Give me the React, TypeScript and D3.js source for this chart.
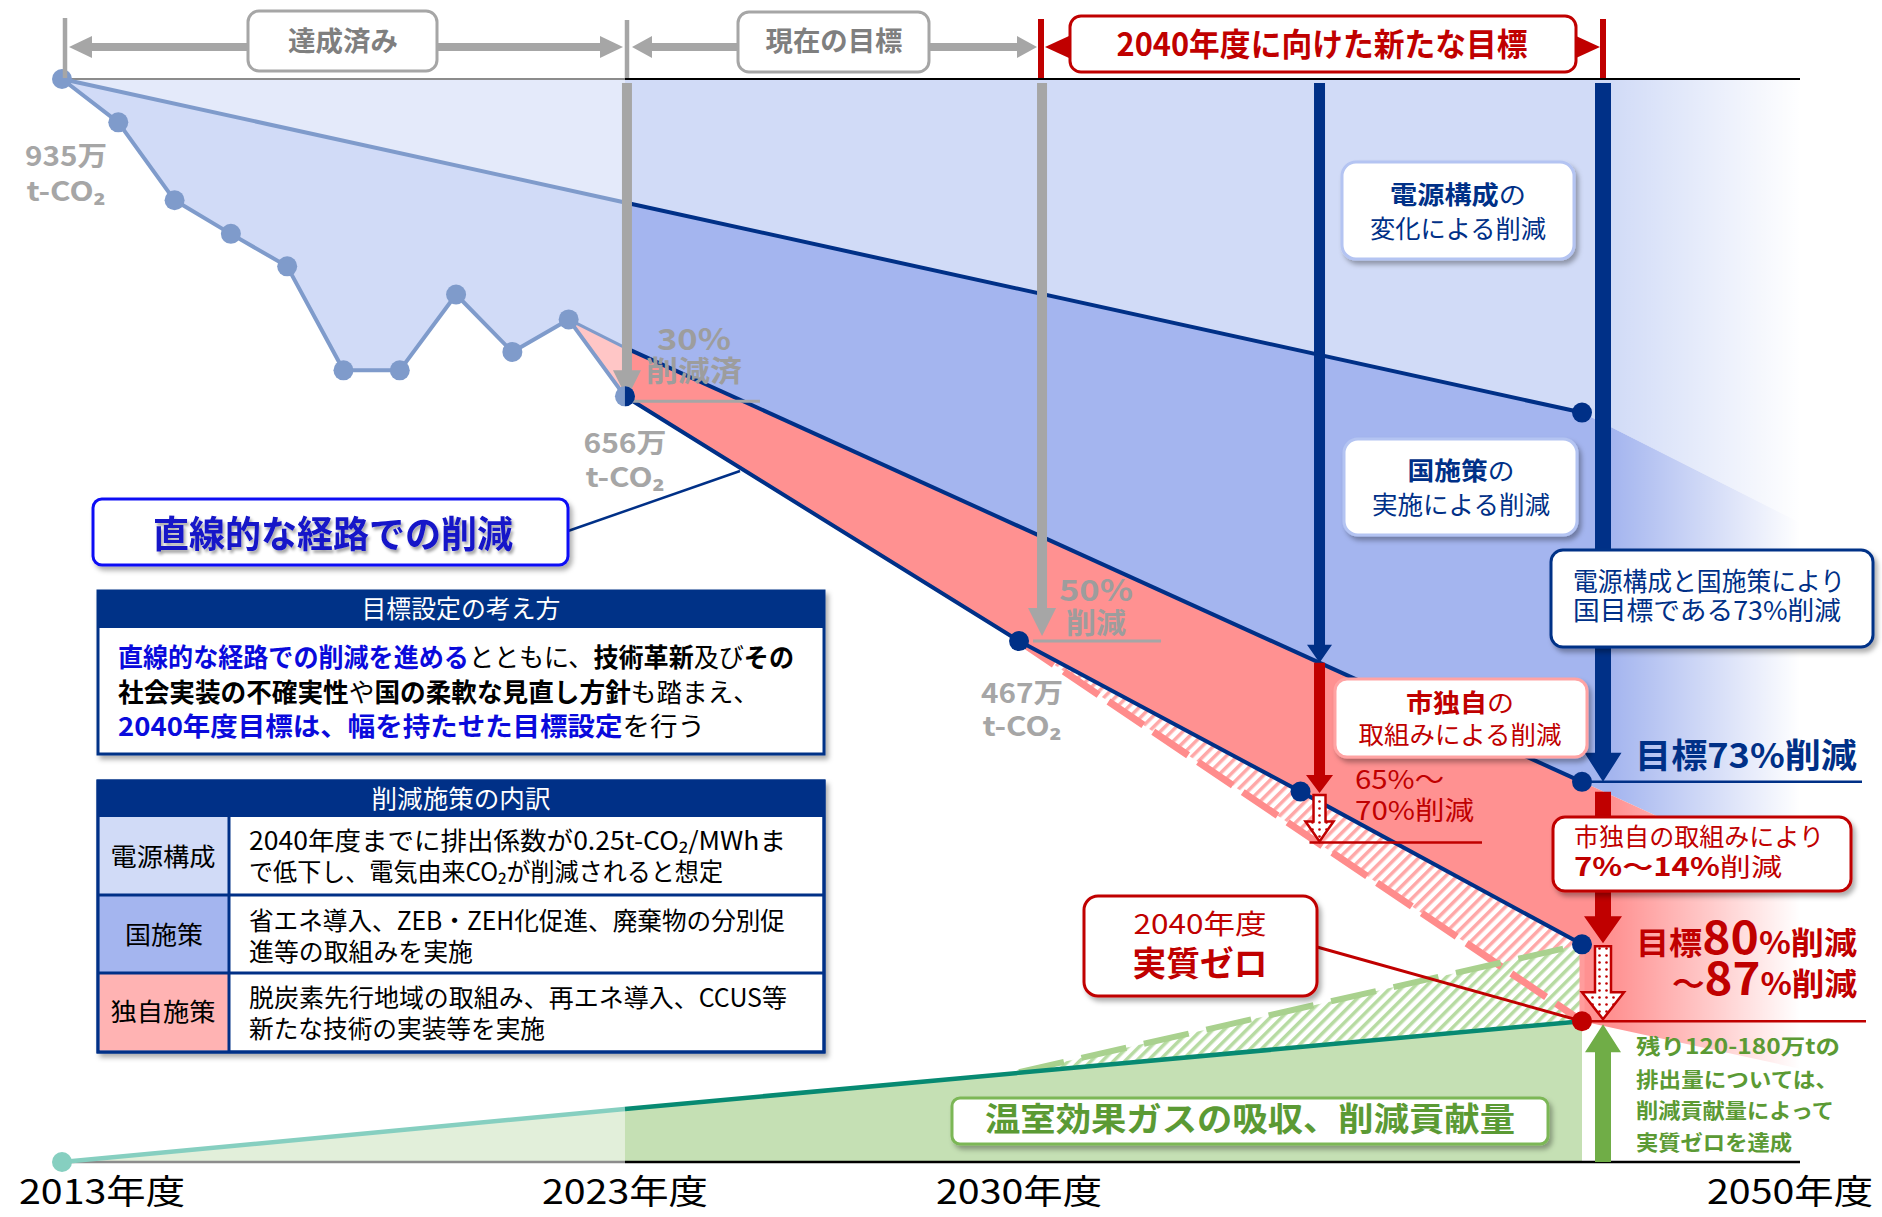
import React from "react";
import * as d3 from "d3";

const FONT = "'Noto Sans CJK JP','Noto Sans',sans-serif";

// ===== Data (values = % of FY2013 emissions as placed on the diagram) =====
const actualYears = [2013, 2014, 2015, 2016, 2017, 2018, 2019, 2020, 2021, 2022, 2023];
const actualValues = [100, 96.0, 88.8, 85.7, 82.7, 73.1, 73.1, 80.1, 74.8, 77.8, 70.7];
const powerMixYears = [2013, 2023, 2040];
const powerMixValues = [100, 88.6, 69.2];
const nationalYears = [2022, 2023, 2040];
const nationalValues = [77.8, 75.2, 35.1];
const linearYears = [2023, 2030, 2035, 2040];
const linearValues = [70.7, 48.1, 34.2, 20.1];
const netZeroPathYears = [2030, 2040];
const netZeroPathValues = [48.1, 13.0];
const sinkYears = [2013, 2023, 2040];
const sinkValues = [0, 4.9, 13.0];
const sinkUpperYears = [2030, 2040];
const sinkUpperValues = [8.3, 20.1];
const fadeYear = 2045.3;
const fadeBlueTop = 55.3;
const fadeBandSplit = 22.5;
const fadePinkBottom = 7.0;
const local2035Level = 29.5;

const periodLabels = ["達成済み", "現在の目標", "2040年度に向けた新たな目標"];
const axisLabels = ["2013年度", "2023年度", "2030年度", "2050年度"];
const axisYears = [2013, 2023, 2030];
const valueLabels = ["935万", "656万", "467万"];
const unitLabel = "t-CO₂";
const tableLabels = ["電源構成", "国施策", "独自施策"];
const tableText = [
  ["2040年度までに排出係数が0.25t-CO₂/MWhま", "で低下し、電気由来CO₂が削減されると想定"],
  ["省エネ導入、ZEB・ZEH化促進、廃棄物の分別促", "進等の取組みを実施"],
  ["脱炭素先行地域の取組み、再エネ導入、CCUS等", "新たな技術の実装等を実施"],
];
const tableWidths = [[537, 474], [536, 224], [538, 296]];
const greenNote = ["残り120-180万tの", "排出量については、", "削減貢献量によって", "実質ゼロを達成"];
const greenNoteWidths = [204, 202, 198, 156];

const NAVY = "#003087";
const RED = "#c00000";
const GRAY = "#a6a6a6";
const LBLUE_LINE = "#7f9bcb";
const GREEN_TXT = "#5b9a34";

function vArrow(x: number, y1: number, y2: number, w: number, hw: number, hl: number) {
  const d = y2 > y1 ? 1 : -1;
  const yb = y2 - d * hl;
  return `M${x - w / 2},${y1}L${x + w / 2},${y1}L${x + w / 2},${yb}L${x + hw / 2},${yb}L${x},${y2}L${x - hw / 2},${yb}L${x - w / 2},${yb}Z`;
}
function hHead(xTip: number, y: number, dir: number, len: number, hw: number) {
  return `M${xTip},${y}L${xTip - dir * len},${y - hw / 2}L${xTip - dir * len},${y + hw / 2}Z`;
}

const T = ({ x, y, s, w = 400, c = "#000", a = "middle", len, base = "central", filter, children }: any) => (
  <text
    x={x}
    y={base === "central" ? y - 0.09 * s : y}
    fontSize={s}
    fontWeight={w}
    fill={c}
    textAnchor={a}
    dominantBaseline={base}
    textLength={len}
    lengthAdjust={len ? "spacingAndGlyphs" : undefined}
    fontFamily={FONT}
    filter={filter}
  >
    {children}
  </text>
);

export default function App() {
  const X = d3.scaleLinear().domain([2013, 2040]).range([62, 1582]);
  const Y = d3.scaleLinear().domain([0, 100]).range([1162, 79]);
  const P = (ys: number[], vs: number[]) => ys.map((yr, i) => [X(yr), Y(vs[i])] as [number, number]);
  const line = d3.line();
  const poly = (pts: [number, number][]) => line(pts) + "Z";

  const act = P(actualYears, actualValues);
  const A = P(powerMixYears, powerMixValues);
  const N = P(nationalYears, nationalValues);
  const L = P(linearYears, linearValues);
  const Z = P(netZeroPathYears, netZeroPathValues);
  const S = P(sinkYears, sinkValues);
  const SU = P(sinkUpperYears, sinkUpperValues);
  const xR = X(fadeYear);
  const yTop = Y(100);
  const yBase = Y(0);

  const x23 = X(2023);
  const x30 = X(2030);
  const x40 = X(2040);
  const arr23 = x23 + 2;
  const arr30 = x30 + 23;
  const arr35 = X(2035) + 19;
  const arr40 = x40 + 21;

  const natInterp = d3.scaleLinear().domain([N[1][0], N[2][0]]).range([N[1][1], N[2][1]]);
  const y35nat = natInterp(arr35);
  const y35loc = Y(local2035Level);

  const polys = {
    veryLight: [[X(2013), yTop], [x23, yTop], A[1], A[0]] as [number, number][],
    lightLeft: [A[0], A[1], ...act.slice().reverse()] as [number, number][],
    lightRight: [[x23, yTop], [xR, yTop], [xR, Y(fadeBlueTop)], A[2], A[1]] as [number, number][],
    med: [A[1], A[2], [xR, Y(fadeBlueTop)], [xR, Y(fadeBandSplit)], N[2], N[1]] as [number, number][],
    pink: [N[1], N[2], [xR, Y(fadeBandSplit)], [xR, Y(fadePinkBottom)], Z[1], L[3], L[2], L[1], L[0]] as [number, number][],
    pinkTri: [N[0], N[1], act[act.length - 1]] as [number, number][],
    pinkHatch: [L[1], L[3], Z[1]] as [number, number][],
    greenLight: [S[0], S[1], [x23, yBase]] as [number, number][],
    green: [S[1], S[2], [x40, yBase], [x23, yBase]] as [number, number][],
    greenHatch: [SU[0], SU[1], S[2]] as [number, number][],
  };

  const d23 = act[act.length - 1];

  return (
    <svg width={1882} height={1217} style={{ display: "block", position: "absolute", left: 0, top: 0, background: "#fff" }}>
      <defs>
        <filter id="sh" x="-10%" y="-10%" width="130%" height="150%">
          <feDropShadow dx="3" dy="4" stdDeviation="2.5" floodColor="#000" floodOpacity="0.32" />
        </filter>
        <filter id="tsh" x="-5%" y="-20%" width="115%" height="160%">
          <feDropShadow dx="2" dy="3" stdDeviation="1.5" floodColor="#000" floodOpacity="0.35" />
        </filter>
        <pattern id="ph" width="8" height="8" patternUnits="userSpaceOnUse" patternTransform="rotate(45)">
          <rect width="8" height="8" fill="#fff" />
          <rect width="3.5" height="8" fill="#ffa8a8" />
        </pattern>
        <pattern id="gh" width="8" height="8" patternUnits="userSpaceOnUse" patternTransform="rotate(45)">
          <rect width="8" height="8" fill="#fff" />
          <rect width="3.5" height="8" fill="#b7dba2" />
        </pattern>
        <pattern id="dots" width="7" height="7" patternUnits="userSpaceOnUse">
          <rect width="7" height="7" fill="#fff" />
          <circle cx="3.5" cy="3.5" r="1.3" fill={RED} />
        </pattern>
        <linearGradient id="fade" x1="0" x2="1" y1="0" y2="0">
          <stop offset="0" stopColor="#fff" stopOpacity="0" />
          <stop offset="1" stopColor="#fff" stopOpacity="1" />
        </linearGradient>
      </defs>

      {/* ===== Area fills ===== */}
      <path d={poly(polys.veryLight)} fill="#e4eafa" />
      <path d={poly(polys.lightLeft)} fill="#d1dbf7" />
      <path d={poly(polys.lightRight)} fill="#d1dbf7" />
      <path d={poly(polys.med)} fill="#a4b5ef" />
      <path d={poly(polys.pink)} fill="#ff9191" />
      <path d={poly(polys.pinkTri)} fill="#ffc6c6" />
      <path d={poly(polys.pinkHatch)} fill="url(#ph)" />
      <path d={poly(polys.greenLight)} fill="#e2efda" />
      <path d={poly(polys.green)} fill="#c5e0b4" />
      <path d={poly(polys.greenHatch)} fill="url(#gh)" />
      <rect x={x40 + 30} y={yTop - 2} width={1800 - x40 - 30} height={yBase - yTop} fill="url(#fade)" />
      <rect x={1799} y={yTop - 2} width={83} height={yBase - yTop} fill="#fff" />

      {/* ===== top & bottom rules ===== */}
      <line x1={X(2013)} x2={x23} y1={yTop} y2={yTop} stroke="#8c8c8c" strokeWidth={1.8} />
      <line x1={x23} x2={1800} y1={yTop} y2={yTop} stroke="#000" strokeWidth={1.8} />
      <line x1={X(2013)} x2={x23} y1={yBase} y2={yBase} stroke="#8c8c8c" strokeWidth={2.5} />
      <line x1={x23} x2={1800} y1={yBase} y2={yBase} stroke="#000" strokeWidth={2.5} />

      {/* ===== dashed hatch borders ===== */}
      <path d={line(Z) || ""} stroke="#ff8c8c" strokeWidth={7} strokeDasharray="42 12" fill="none" />
      <line x1={x40} x2={x40} y1={L[3][1]} y2={Z[1][1]} stroke="#ff9c9c" strokeWidth={5} />
      <path d={line(SU) || ""} stroke="#a9d18e" strokeWidth={6} strokeDasharray="46 18" fill="none" />

      {/* ===== lines ===== */}
      <path d={line(act) || ""} stroke={LBLUE_LINE} strokeWidth={4} fill="none" strokeLinejoin="round" />
      <path d={line([A[0], A[1]]) || ""} stroke={LBLUE_LINE} strokeWidth={4} fill="none" />
      <path d={line([A[1], A[2]]) || ""} stroke={NAVY} strokeWidth={4} fill="none" />
      <path d={line([N[0], N[1]]) || ""} stroke={LBLUE_LINE} strokeWidth={3} fill="none" />
      <path d={line([N[1], N[2]]) || ""} stroke={NAVY} strokeWidth={4} fill="none" />
      <path d={line(L) || ""} stroke={NAVY} strokeWidth={4} fill="none" />
      <path d={line([S[0], S[1]]) || ""} stroke="#86cfc0" strokeWidth={4.5} fill="none" />
      <path d={line([S[1], S[2]]) || ""} stroke="#078a72" strokeWidth={4.5} fill="none" />

      {/* ===== vertical arrows ===== */}
      <path d={vArrow(arr23, 83, d23[1] + 2, 10, 28, 28)} fill={GRAY} />
      <line x1={arr23} x2={arr23 + 133} y1={d23[1] + 5} y2={d23[1] + 5} stroke={GRAY} strokeWidth={3} />
      <path d={vArrow(arr30, 83, L[1][1] - 5, 10, 28, 28)} fill={GRAY} />
      <line x1={x30 + 14} x2={x30 + 142} y1={L[1][1]} y2={L[1][1]} stroke={GRAY} strokeWidth={3} />

      <path d={vArrow(arr35, 83, y35nat, 11, 25, 18)} fill={NAVY} />
      <path d={vArrow(arr35, y35nat, 793, 11, 27, 18)} fill={RED} />
      <line x1={arr35 - 10} x2={1482} y1={y35loc} y2={y35loc} stroke={RED} strokeWidth={2.5} />
      <path d={vArrow(arr35, 795, y35loc - 1, 12, 28, 20)} fill="url(#dots)" stroke={RED} strokeWidth={2.5} />

      <path d={vArrow(arr40, 83, N[2][1], 16, 37, 29)} fill={NAVY} />
      <line x1={x40} x2={1862} y1={N[2][1]} y2={N[2][1]} stroke={NAVY} strokeWidth={2.5} />
      <path d={vArrow(arr40, N[2][1] + 10, L[3][1] - 1, 16, 38, 27)} fill={RED} />
      <line x1={x40} x2={1866} y1={Z[1][1]} y2={Z[1][1]} stroke={RED} strokeWidth={2.5} />
      <path d={vArrow(arr40, L[3][1] + 2, Z[1][1] - 2, 16, 42, 27)} fill="url(#dots)" stroke={RED} strokeWidth={2.5} />
      <path d={vArrow(arr40, yBase, Z[1][1] + 3, 16, 36, 28)} fill="#70ad47" />

      {/* ===== dots ===== */}
      {act.map((p, i) => (
        <circle key={"a" + i} cx={p[0]} cy={p[1]} r={10} fill={LBLUE_LINE} />
      ))}
      <path d={`M${d23[0]},${d23[1] - 10}A10,10 0 0,1 ${d23[0]},${d23[1] + 10}Z`} fill={NAVY} />
      <circle cx={A[2][0]} cy={A[2][1]} r={10} fill={NAVY} />
      <circle cx={N[2][0]} cy={N[2][1]} r={10} fill={NAVY} />
      {L.slice(1).map((p, i) => (
        <circle key={"l" + i} cx={p[0]} cy={p[1]} r={10} fill={NAVY} />
      ))}
      <circle cx={Z[1][0]} cy={Z[1][1]} r={10} fill={RED} />
      <circle cx={S[0][0]} cy={S[0][1]} r={10} fill="#86cfc0" />

      {/* ===== top brackets ===== */}
      <line x1={65} x2={65} y1={18} y2={78} stroke={GRAY} strokeWidth={4.5} />
      <line x1={627} x2={627} y1={20} y2={78} stroke={GRAY} strokeWidth={4.5} />
      <line x1={88} x2={602} y1={47} y2={47} stroke={GRAY} strokeWidth={8} />
      <path d={hHead(69, 47, -1, 23, 22)} fill={GRAY} />
      <path d={hHead(623, 47, 1, 23, 22)} fill={GRAY} />
      <line x1={650} x2={1018} y1={47} y2={47} stroke={GRAY} strokeWidth={8} />
      <path d={hHead(632, 47, -1, 20, 22)} fill={GRAY} />
      <path d={hHead(1037, 47, 1, 20, 22)} fill={GRAY} />
      <line x1={1041} x2={1041} y1={19} y2={78} stroke={RED} strokeWidth={6} />
      <line x1={1603} x2={1603} y1={19} y2={78} stroke={RED} strokeWidth={6} />
      <path d={hHead(1045, 47, -1, 24, 22)} fill={RED} />
      <path d={hHead(1600, 47, 1, 24, 22)} fill={RED} />

      <rect x={248} y={11} width={189} height={60} rx={11} fill="#fff" stroke={GRAY} strokeWidth={3} />
      <T x={343} y={42} s={27} w={700} c="#7f7f7f" len={110}>{periodLabels[0]}</T>
      <rect x={738} y={12} width={191} height={60} rx={11} fill="#fff" stroke={GRAY} strokeWidth={3} />
      <T x={834} y={42} s={27} w={700} c="#7f7f7f" len={137}>{periodLabels[1]}</T>
      <rect x={1070} y={16} width={506} height={56} rx={11} fill="#fff" stroke={RED} strokeWidth={3} />
      <T x={1322} y={45} s={32} w={700} c={RED} len={411}>{periodLabels[2]}</T>

      {/* ===== value labels ===== */}
      <T x={66} y={157} s={27} w={700} c={GRAY} len={82}>{valueLabels[0]}</T>
      <T x={66} y={192} s={27} w={700} c={GRAY} len={79}>{unitLabel}</T>
      <T x={625} y={444} s={27} w={700} c={GRAY} len={83}>{valueLabels[1]}</T>
      <T x={625} y={478} s={27} w={700} c={GRAY} len={79}>{unitLabel}</T>
      <T x={1022} y={694} s={27} w={700} c={GRAY} len={82}>{valueLabels[2]}</T>
      <T x={1022} y={727} s={27} w={700} c={GRAY} len={79}>{unitLabel}</T>

      <T x={694} y={340} s={29} w={700} c="#9d9d9d" len={74}>30%</T>
      <T x={694} y={372} s={29} w={700} c="#9d9d9d" len={96}>削減済</T>
      <T x={1096} y={591} s={29} w={700} c="#9d9d9d" len={74}>50%</T>
      <T x={1096} y={624} s={29} w={700} c="#9d9d9d" len={60}>削減</T>

      {/* ===== straight path callout ===== */}
      <line x1={568} y1={531} x2={740} y2={471} stroke={NAVY} strokeWidth={2.5} />
      <rect x={93} y={499} width={475} height={66} rx={9} fill="#fff" stroke="#1010f5" strokeWidth={3} filter="url(#sh)" />
      <T x={333} y={535} s={37} w={700} c="#1212c8" len={360} filter="url(#tsh)">直線的な経路での削減</T>

      {/* ===== info box ===== */}
      <g filter="url(#sh)">
        <rect x={98} y={591} width={726} height={163} fill="#fff" stroke={NAVY} strokeWidth={3} />
        <rect x={98} y={591} width={726} height={37} fill={NAVY} />
      </g>
      <T x={461} y={609} s={25} c="#fff" len={199}>目標設定の考え方</T>
      <T x={118} y={657} s={26} a="start" len={676}>
        <tspan fill="#0a0adc" fontWeight={700}>直線的な経路での削減を進める</tspan>
        <tspan>とともに、</tspan>
        <tspan fontWeight={700}>技術革新</tspan>
        <tspan>及び</tspan>
        <tspan fontWeight={700}>その</tspan>
      </T>
      <T x={118} y={692} s={26} a="start" len={641}>
        <tspan fontWeight={700}>社会実装の不確実性</tspan>
        <tspan>や</tspan>
        <tspan fontWeight={700}>国の柔軟な見直し方針</tspan>
        <tspan>も踏まえ、</tspan>
      </T>
      <T x={118} y={726} s={26} a="start" len={587}>
        <tspan fill="#0a0adc" fontWeight={700}>2040年度目標は、幅を持たせた目標設定</tspan>
        <tspan>を行う</tspan>
      </T>

      {/* ===== table ===== */}
      <g filter="url(#sh)">
        <rect x={98} y={781} width={726} height={271} fill="#fff" stroke={NAVY} strokeWidth={3} />
      </g>
      <rect x={98} y={781} width={726} height={36} fill={NAVY} />
      <rect x={99.5} y={817} width={129} height={78} fill="#d1dbf7" />
      <rect x={99.5} y={895} width={129} height={78} fill="#a4b5ef" />
      <rect x={99.5} y={973} width={129} height={77.5} fill="#ffb3b3" />
      <line x1={98} x2={824} y1={895} y2={895} stroke={NAVY} strokeWidth={3} />
      <line x1={98} x2={824} y1={973} y2={973} stroke={NAVY} strokeWidth={3} />
      <line x1={229} x2={229} y1={817} y2={1052} stroke={NAVY} strokeWidth={3} />
      <rect x={98} y={781} width={726} height={271} fill="none" stroke={NAVY} strokeWidth={3} />
      <T x={461} y={799} s={25} c="#fff" len={179}>削減施策の内訳</T>
      <T x={163} y={857} s={25} len={105}>{tableLabels[0]}</T>
      <T x={164} y={935} s={25} len={78}>{tableLabels[1]}</T>
      <T x={163} y={1012} s={25} len={105}>{tableLabels[2]}</T>
      {tableText.map((rows, i) =>
        rows.map((t, j) => (
          <T key={i + "-" + j} x={249} y={[841, 921, 998][i] + j * 31} s={25} a="start" len={tableWidths[i][j]}>{t}</T>
        ))
      )}

      {/* ===== right callout boxes ===== */}
      <rect x={1342} y={162} width={232} height={97} rx={14} fill="#fff" stroke="#b4c4f2" strokeWidth={3} filter="url(#sh)" />
      <T x={1458} y={195} s={25} c={NAVY} len={136}>
        <tspan fontWeight={700}>電源構成</tspan>
        <tspan>の</tspan>
      </T>
      <T x={1458} y={229} s={25} c={NAVY} len={176}>変化による削減</T>

      <rect x={1344} y={439} width={233} height={96} rx={14} fill="#fff" stroke="#b4c4f2" strokeWidth={3} filter="url(#sh)" />
      <T x={1461} y={471} s={25} c={NAVY} len={107}>
        <tspan fontWeight={700}>国施策</tspan>
        <tspan>の</tspan>
      </T>
      <T x={1461} y={505} s={25} c={NAVY} len={178}>実施による削減</T>

      <rect x={1551} y={550} width={322} height={97} rx={12} fill="#fff" stroke={NAVY} strokeWidth={3} filter="url(#sh)" />
      <T x={1573} y={582} s={26} c={NAVY} a="start" len={272}>電源構成と国施策により</T>
      <T x={1573} y={611} s={26} c={NAVY} a="start" len={268}>国目標である73%削減</T>

      <rect x={1335} y={679} width={252} height={78} rx={12} fill="#fff" stroke="#ffa3a3" strokeWidth={3} filter="url(#sh)" />
      <T x={1460} y={703} s={25} c={RED} len={108}>
        <tspan fontWeight={700}>市独自</tspan>
        <tspan>の</tspan>
      </T>
      <T x={1460} y={735} s={25} c={RED} len={203}>取組みによる削減</T>

      <T x={1355} y={780} s={26} c={RED} a="start" len={89}>65%～</T>
      <T x={1355} y={811} s={26} c={RED} a="start" len={119}>70%削減</T>

      <T x={1635} y={757} s={34} w={700} c={NAVY} a="start" len={222}>目標73%削減</T>

      <rect x={1553} y={817} width={298} height={74} rx={12} fill="#fff" stroke={RED} strokeWidth={3} filter="url(#sh)" />
      <T x={1574} y={837} s={25} c={RED} a="start" len={250}>市独自の取組みにより</T>
      <T x={1574} y={867} s={25} c={RED} a="start" len={208}>
        <tspan fontWeight={700}>7%～14%</tspan>
        <tspan>削減</tspan>
      </T>

      <T x={1857} y={954} s={31} w={700} c={RED} a="end" len={221} base="alphabetic">
        <tspan>目標</tspan>
        <tspan fontSize={45}>80</tspan>
        <tspan>%削減</tspan>
      </T>
      <T x={1857} y={995} s={31} w={700} c={RED} a="end" len={185} base="alphabetic">
        <tspan>～</tspan>
        <tspan fontSize={45}>87</tspan>
        <tspan>%削減</tspan>
      </T>

      {/* net zero callout */}
      <line x1={1317} y1={947} x2={Z[1][0]} y2={Z[1][1]} stroke={RED} strokeWidth={3} />
      <rect x={1084} y={896} width={233} height={100} rx={14} fill="#fff" stroke={RED} strokeWidth={3} filter="url(#sh)" />
      <T x={1200} y={925} s={27} c={RED} len={133}>2040年度</T>
      <T x={1200} y={965} s={34} w={700} c={RED} len={135}>実質ゼロ</T>

      {/* green callouts */}
      <rect x={952} y={1098} width={596} height={46} rx={8} fill="#fff" stroke="#7cb757" strokeWidth={3} filter="url(#sh)" />
      <T x={1250} y={1120} s={33} w={700} c={GREEN_TXT} len={530}>温室効果ガスの吸収、削減貢献量</T>
      {greenNote.map((t, i) => (
        <T key={"g" + i} x={1636} y={[1047, 1080, 1111, 1143][i]} s={21} w={700} c={GREEN_TXT} a="start" len={greenNoteWidths[i]}>{t}</T>
      ))}

      {/* ===== axis labels ===== */}
      {axisYears.map((yr, i) => (
        <T key={"x" + i} x={X(yr) + 40 * (i === 0 ? 1 : 0)} y={1193} s={34} len={166}>{axisLabels[i]}</T>
      ))}
      <T x={1790} y={1193} s={34} len={166}>{axisLabels[3]}</T>
    </svg>
  );
}
